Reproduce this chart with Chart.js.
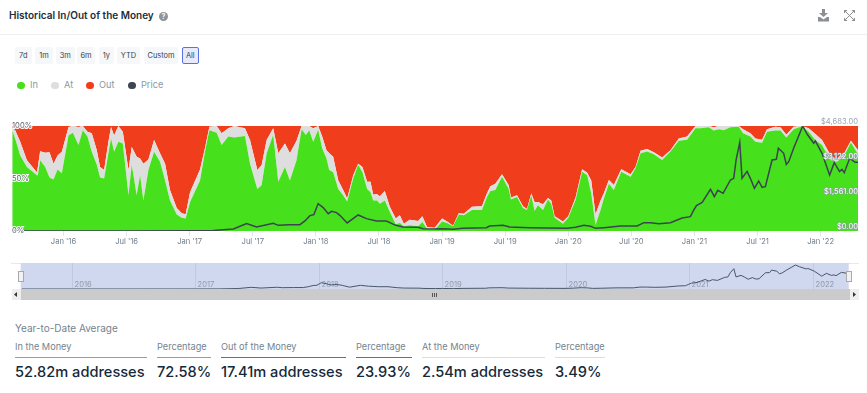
<!DOCTYPE html>
<html><head><meta charset="utf-8">
<script src="https://cdn.jsdelivr.net/npm/chart.js@4/dist/chart.umd.min.js"></script>
<style>
html,body{margin:0;padding:0;background:#fff;font-family:Inter,"Open Sans",sans-serif;overflow:hidden}
#page{position:relative;width:867px;height:393px}
.a{position:absolute;white-space:nowrap}
.btn{position:absolute;top:47px;height:17px;line-height:17px;text-align:center;font-size:7.4px;color:#39424c;background:#f6f7f8;border-radius:2px;box-sizing:border-box}
.btn.on{background:#e6eafa;border:1px solid #5b70e2;line-height:15px}
.dot{position:absolute;top:81.5px;width:7.5px;height:7.5px;border-radius:50%}
.leg{position:absolute;top:79px;font-size:9.2px;line-height:12px;color:#8a98a5}
.lab{position:absolute;top:341px;font-size:9.2px;line-height:12px;color:#75838f}
.rule{position:absolute;top:357px;height:1px}
.val{position:absolute;top:363px;font-size:14.6px;line-height:18px;font-weight:500;color:#14293a;white-space:nowrap}
canvas{position:absolute;left:0}
</style></head><body><div id="page">
<div class="a" style="left:9px;top:8px;font-size:10px;line-height:15px;font-weight:600;color:#1d2d3a">Historical In/Out of the Money</div>
<div class="a" style="left:159px;top:12px;width:9px;height:9px;border-radius:50%;background:#8f9296;color:#fff;font-size:7px;line-height:9px;text-align:center;font-weight:700">?</div>
<svg class="a" style="left:817px;top:9px" width="13" height="13" viewBox="0 0 13 13"><path d="M5 0h3v4h3L6.500 8 2 4h3zM1 8h2l3.500 2.500L10 8h2v4.500H1z" fill="#8b8e92"/></svg>
<svg class="a" style="left:844px;top:10px" width="11" height="11" viewBox="0 0 11 11"><path d="M0 0h3.500L0 3.500zM11 0v3.500L7.500 0zM0 11V7.500L3.500 11zM11 11H7.500L11 7.500z" fill="#8b8e92"/><path d="M1.500 1.500l8 8M9.500 1.500l-8 8" stroke="#8b8e92" stroke-width="1"/></svg>
<div class="a" style="left:0;top:34px;width:867px;height:1px;background:#eef0f2"></div>
<div id="btns"></div>
<div class="dot" style="left:17px;background:#47e01d"></div><div class="leg" style="left:30px">In</div>
<div class="dot" style="left:51px;background:#dedede"></div><div class="leg" style="left:64px">At</div>
<div class="dot" style="left:86px;background:#f03e1d"></div><div class="leg" style="left:99px">Out</div>
<div class="dot" style="left:128px;background:#3f4450"></div><div class="leg" style="left:141px">Price</div>
<canvas id="main" style="top:100px" width="867" height="150"></canvas>
<div class="a" style="left:11px;top:263px;width:848px;height:1px;background:#e8e8e8"></div>
<canvas id="nav" style="top:258px" width="867" height="32"></canvas>
<div class="a" style="left:11.500px;top:289px;width:847px;height:11px;background:#cbcbcb"></div>
<div class="a" style="left:11.500px;top:289px;width:9px;height:11px;background:#eeeeee"></div>
<div class="a" style="left:849.500px;top:289px;width:9px;height:11px;background:#eeeeee"></div>
<svg class="a" style="left:14px;top:292px" width="4" height="5"><path d="M3 0v5L0 2.500z" fill="#333"/></svg>
<svg class="a" style="left:853px;top:292px" width="4" height="5"><path d="M0 0v5L3 2.500z" fill="#333"/></svg>
<div class="a" style="left:432px;top:293px;width:1px;height:4px;background:#555;box-shadow:2px 0 0 #555,4px 0 0 #555"></div>
<div class="a" style="left:17.500px;top:271px;width:6px;height:11px;background:#f2f2f2;border:1px solid #a9a9a9;box-sizing:border-box"></div>
<div class="a" style="left:845.700px;top:271px;width:6px;height:11px;background:#f2f2f2;border:1px solid #a9a9a9;box-sizing:border-box"></div>
<div class="a" style="left:15px;top:322px;font-size:10px;line-height:12px;color:#75838f">Year-to-Date Average</div>
<div id="stats"></div>
</div>
<script>
// Shared sample positions for the area series, as decimal years
const areaYears = [2015.594,2015.617,2015.657,2015.710,2015.789,2015.797,2015.815,2015.855,2015.889,2015.921,2015.953,2015.987,
2016.040,2016.074,2016.119,2016.153,2016.190,2016.224,2016.264,2016.290,2016.322,2016.356,2016.377,2016.401,2016.435,2016.470,2016.515,2016.541,2016.580,2016.607,2016.633,2016.673,2016.718,2016.765,2016.805,2016.844,2016.897,2016.937,2016.968,
2017.003,2017.082,2017.121,2017.156,2017.214,2017.253,2017.306,2017.354,2017.438,2017.478,2017.536,2017.570,2017.610,2017.662,2017.702,2017.755,2017.794,2017.847,2017.887,2017.921,2017.947,2017.979,
2018.018,2018.050,2018.084,2018.106,2018.137,2018.177,2018.216,2018.248,2018.296,2018.335,2018.369,2018.406,2018.433,2018.454,2018.485,2018.507,2018.546,2018.586,2018.633,2018.665,2018.697,2018.744,2018.810,2018.844,2018.881,2018.942,
2019.000,2019.040,2019.087,2019.132,2019.172,2019.237,2019.316,2019.356,2019.383,2019.422,2019.475,2019.528,2019.546,2019.594,2019.641,2019.673,2019.707,2019.733,2019.760,2019.800,2019.839,2019.865,2019.892,2019.958,
2020.000,2020.058,2020.110,2020.150,2020.182,2020.216,2020.256,2020.282,2020.322,2020.361,2020.420,2020.494,2020.533,2020.573,2020.625,2020.678,2020.744,2020.810,2020.876,2020.942,
2021.008,2021.047,2021.113,2021.153,2021.193,2021.232,2021.285,2021.351,2021.385,2021.443,2021.483,2021.536,2021.575,2021.641,2021.681,2021.728,2021.786,2021.852,2021.905,2021.958,
2022.011,2022.077,2022.129,2022.182,2022.240,2022.296];
// Percent of addresses in the money (top of green)
const inPct = [96,88,72,61,53,53,67.5,61,51,49,58.6,55,
91,93.6,82,96,90,75.5,63,51,50,74,88,75.5,85,83.4,34,63,34,53,29,58,75.5,66,48,29,15.6,12.7,11.8,
27.7,48,75.5,96,93.6,82,90,89,90.4,64,40,43.6,74,91.4,47,61,48,67.5,97,91.4,96,85,
96.5,78.7,69,58,56,40,34,28,50,63,56,40,37,29,29,26,29,18,6.4,7.6,4.5,5.4,4.5,8.6,2.2,1.3,
9,7.6,4.5,15.6,15,20,20,32.5,38,39,51.6,40,30,32.5,22,20,34,19,24.5,20,30,26,12.7,7,
12.7,29.5,56.5,53,36,5.7,20,31,45,39,56.5,51.7,59.7,74,75.6,73,67.6,75.6,86,87,
97.8,97.8,98.7,95.6,96.8,96,98.7,99.4,93,90,85,84,94.6,95.6,95.6,89,96.8,99.7,94.6,86.7,
82,67.6,66,70.8,84.4,73];
// Percent in or at the money (top of grey band)
const inOrAtPct = [98,96,85,67.5,56,61,76,74.5,75,64,72,75.5,
99,100,99,100,94.6,93,77,61,58,85,99,91,100,94.6,58,80,70.7,69,64,68,86.6,74,64,39,22,17,16,
37,58.6,78.7,99.4,100,93,97.8,100,97.8,86.6,58,62.7,86.6,97.8,74,83.4,74,86,100,100,100,97.8,
100,90,77,74,70.7,48.4,39,31,53,64,61,47,47,34.7,35,33,38,23,11.8,15,7,10.8,9.5,14,3.8,3.2,
11.8,9,5,17,16.5,23,23.6,36,42.7,45,54,43.6,32,34,23.6,21,35.7,27.7,27.7,25.5,31.5,29,14,9,
14,32,58.7,55.5,48,16,29,36,48.6,43.8,58.7,54,61,76.5,78,75,70,77,88,90,
100,100,100,98.7,100,100,100,100,96.8,93,88,87,96.8,99.4,98.7,91.7,99.4,100,97.8,92.4,
86.7,72.4,68,73,86,77];
// Price line, read separately
const priceYears = [2015.594,2016.5,2017.0,2017.187,2017.346,2017.451,2017.530,2017.662,2017.702,2017.794,2017.873,2017.913,2017.953,2017.984,
2018.018,2018.058,2018.098,2018.124,2018.164,2018.190,2018.248,2018.335,2018.401,2018.480,2018.559,2018.633,2018.691,2018.810,2018.850,2018.942,
2019.000,2019.087,2019.166,2019.351,2019.377,2019.483,2019.536,2019.694,2019.826,
2019.992,2020.058,2020.124,2020.177,2020.216,2020.282,2020.414,2020.546,2020.599,2020.652,2020.718,2020.810,2020.902,2020.968,2020.995,
2021.016,2021.061,2021.127,2021.158,2021.185,2021.227,2021.285,2021.311,2021.330,2021.359,2021.377,2021.417,2021.443,2021.475,2021.509,2021.536,2021.562,2021.615,2021.649,2021.665,2021.707,2021.728,2021.747,2021.786,2021.858,2021.892,2021.945,2021.958,
2022.011,2022.071,2022.108,2022.150,2022.169,2022.187,2022.230,2022.274,2022.296];
const priceUsd = [1,3,8,20,90,328,180,343,253,283,283,447,685,730,
1222,1043,775,880,820,700,358,715,551,447,447,253,179,164,105,85,
105,75,119,149,224,253,179,149,134,
119,164,253,208,119,149,223,223,372,372,327,372,580,640,937,
1130,1279,1859,1532,1814,1680,2275,2350,3167,3955,2350,2660,2350,1900,2230,1948,1978,3167,3197,3688,3465,2974,3093,3688,4683,4327,3911,4015,
3465,2498,3048,2647,2751,2602,3242,3063,3063];
const xTickYears = [2016,2016.5,2017,2017.5,2018,2018.5,2019,2019.5,2020,2020.5,2021,2021.5,2022];
const xTickLabels = ["Jan '16","Jul '16","Jan '17","Jul '17","Jan '18","Jul '18","Jan '19","Jul '19","Jan '20","Jul '20","Jan '21","Jul '21","Jan '22"];
const pctTicks = [0,50,100];
const priceTicks = [0,1561,3122,4683];
const priceTickLabels = ["$0.00","$1,561.00","$3,122.00","$4,683.00"];
const navYears = [2016,2017,2018,2019,2020,2021,2022];
const ranges = ["7d","1m","3m","6m","1y","YTD","Custom","All"];
const statLabels = ["In the Money","Percentage","Out of the Money","Percentage","At the Money","Percentage"];
const statValues = ["52.82m addresses","72.58%","17.41m addresses","23.93%","2.54m addresses","3.49%"];

// page furniture
const btnBoxes=[[15,16.5],[35,18],[56,18.5],[77,18],[98.5,15.5],[117,23],[144,34],[181.5,17.5]];
document.getElementById('btns').innerHTML=ranges.map((r,i)=>`<div class="btn${r==='All'?' on':''}" style="left:${btnBoxes[i][0]}px;width:${btnBoxes[i][1]}px">${r}</div>`).join('');
const statBoxes=[[15,132,'#47e01d'],[157,54,'#47e01d'],[221,125,'#f03e1d'],[356,56,'#f03e1d'],[422,123,'#dedede'],[555,50,'#dedede']];
document.getElementById('stats').innerHTML=statLabels.map((l,i)=>`<div class="lab" style="left:${statBoxes[i][0]}px">${l}</div><div class="rule" style="left:${statBoxes[i][0]}px;width:${statBoxes[i][1]}px;background:${statBoxes[i][2]}"></div><div class="val" style="left:${statBoxes[i][0]}px">${statValues[i]}</div>`).join('');

const pts=(xs,ys)=>xs.map((x,i)=>({x,y:ys[i]}));
const atPct=inOrAtPct.map((t,i)=>+(t-inPct[i]).toFixed(1));
const outPct=inOrAtPct.map(t=>+(100-t).toFixed(1));
const FONT='Inter,"Open Sans",sans-serif';
Chart.defaults.animation=false;
Chart.defaults.responsive=false;
Chart.defaults.font.family=FONT;
const isTopPrice=c=>c.tick&&c.tick.value===4683;

new Chart(document.getElementById('main'),{
  type:'line',
  data:{datasets:[
    {label:'In',data:pts(areaYears,inPct),backgroundColor:'#47e01d',borderColor:'#47e01d',borderWidth:0,pointRadius:0,fill:'origin',tension:0,yAxisID:'y',order:1},
    {label:'At',data:pts(areaYears,atPct),backgroundColor:'#dedede',borderColor:'#dedede',borderWidth:0,pointRadius:0,fill:'-1',tension:0,yAxisID:'y',order:2},
    {label:'Out',data:pts(areaYears,outPct),backgroundColor:'#f03e1d',borderColor:'#f03e1d',borderWidth:0,pointRadius:0,fill:'-1',tension:0,yAxisID:'y',order:3},
    {label:'Price',data:pts(priceYears,priceUsd),borderColor:'#3c4250',borderWidth:1.5,pointRadius:0,fill:false,tension:0,yAxisID:'y2',order:0}
  ]},
  options:{
    layout:{padding:{left:12,right:9,top:26,bottom:0}},
    plugins:{legend:{display:false},tooltip:{enabled:false}},
    scales:{
      x:{type:'linear',min:2015.592,max:2022.296,
        grid:{drawOnChartArea:false,color:'#dbe3f4',tickLength:5},border:{display:false},
        afterBuildTicks:s=>{s.ticks=xTickYears.map(v=>({value:v}));},
        afterFit:s=>{s.height=19;},
        ticks:{autoSkip:false,maxRotation:0,padding:1,color:'#6f7d8a',font:{size:7.6},
          callback:v=>xTickLabels[xTickYears.indexOf(v)]}},
      y:{stacked:true,min:0,max:100,position:'left',grid:{display:false,drawTicks:false},border:{display:false},
        afterBuildTicks:s=>{s.ticks=pctTicks.map(v=>({value:v}));},
        ticks:{mirror:true,z:2,padding:0,color:'#5b6570',textStrokeColor:'#ffffff',textStrokeWidth:2,font:{size:7.6},callback:v=>v+'%'}},
      y2:{min:0,max:4683,position:'right',grid:{display:false,drawTicks:false},border:{display:false},
        afterBuildTicks:s=>{s.ticks=priceTicks.map(v=>({value:v}));},
        ticks:{mirror:true,z:2,padding:0,labelOffset:-4.5,
          color:c=>isTopPrice(c)?'#97a4b0':'#ffffff',
          textStrokeColor:c=>isTopPrice(c)?'#ffffff':'#8e9ba8',
          textStrokeWidth:c=>isTopPrice(c)?0:1.2,
          font:{size:7.6},
          callback:v=>priceTickLabels[priceTicks.indexOf(v)]}}
    }
  }
});

const navPlugin={id:'navBack',
  beforeDatasetsDraw(c){
    const {ctx,chartArea:a,scales:{x}}=c;
    ctx.save();
    ctx.fillStyle='#cfd8ee';ctx.fillRect(a.left,a.top,a.right-a.left,a.bottom-a.top);
    ctx.strokeStyle='#bfc9e0';ctx.lineWidth=1;ctx.fillStyle='#8f9aa8';ctx.font='7.6px '+FONT;ctx.textBaseline='middle';
    navYears.forEach(yr=>{const p=Math.round(x.getPixelForValue(yr))+.5;
      ctx.beginPath();ctx.moveTo(p,a.top);ctx.lineTo(p,a.bottom);ctx.stroke();
      ctx.fillText(String(yr),p+2,a.bottom-4.5);});
    ctx.restore();
  }};
new Chart(document.getElementById('nav'),{
  type:'line',
  data:{datasets:[{data:pts(priceYears,priceUsd),borderColor:'#47566f',borderWidth:1,pointRadius:0,fill:false,tension:0}]},
  options:{
    layout:{padding:{left:20.7,right:18.3,top:5,bottom:1}},
    plugins:{legend:{display:false},tooltip:{enabled:false}},
    scales:{x:{type:'linear',display:false,min:2015.585,max:2022.289},y:{display:false,min:0,max:5070}}
  },
  plugins:[navPlugin]
});
</script></body></html>
